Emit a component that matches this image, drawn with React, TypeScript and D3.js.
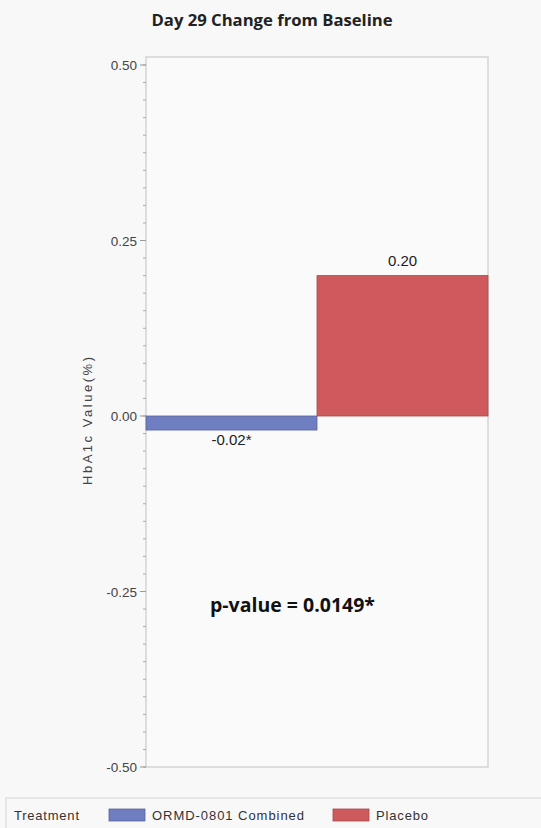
import React from "react";
import * as d3 from "d3";

const categories = ["ORMD-0801 Combined", "Placebo"];
const values = [-0.02, 0.2];
const barLabels = ["-0.02*", "0.20"];
const colors = ["#6e7ec0", "#cf5a5d"];
const yTicks = [-0.5, -0.25, 0, 0.25, 0.5];
const title = "Day 29 Change from Baseline";
const yLabel = "HbA1c Value(%)";
const annotation = "p-value = 0.0149*";
const legendTitle = "Treatment";

export default function App() {
  const W = 541, H = 828;
  const left = 146, right = 488, top = 57;
  const y = d3.scaleLinear().domain([-0.5, 0.5]).range([767, 65]);
  const x = d3.scaleBand().domain(categories).range([left, right]).padding(0);
  const minor = d3.range(-0.5, 0.5001, 0.025).map((v) => +v.toFixed(3));
  const font = "'Liberation Sans', Arial, sans-serif";
  const legendX = [109, 333];
  const legendTextLen = [152, 52];
  return (
    <svg width={W} height={H} style={{ position: "absolute", left: 0, top: 0, background: "#f8f8f8" }}>
      <rect x={0} y={0} width={W} height={H} fill="#f8f8f8" />
      <text x={272} y={26} textAnchor="middle" fontFamily="'Open Sans', sans-serif" fontWeight="bold" fontSize={16} fill="#222" textLength={241} lengthAdjust="spacingAndGlyphs">{title}</text>
      <rect x={left} y={top} width={right - left} height={y(-0.5) - top} fill="#fafafa" stroke="#d4d4d4" strokeWidth={1.5} />
      {categories.map((c, i) => {
        const v = values[i];
        return (
          <rect key={c} x={x(c)} width={x.bandwidth()} y={y(Math.max(0, v))} height={Math.abs(y(v) - y(0))} fill={colors[i]} stroke={d3.color(colors[i])!.darker(0.6).toString()} strokeWidth={0.8} />
        );
      })}
      {categories.map((c, i) => {
        const v = values[i];
        const cx = x(c)! + x.bandwidth() / 2;
        const ty = v >= 0 ? y(v) - 10 : y(v) + 15;
        return (
          <text key={c + "l"} x={cx} y={ty} textAnchor="middle" fontFamily={font} fontSize={15} fill="#222">{barLabels[i]}</text>
        );
      })}
      {minor.map((v) => (
        <line key={"m" + v} x1={left - 3} x2={left} y1={y(v)} y2={y(v)} stroke="#aaa" strokeWidth={1} />
      ))}
      {yTicks.map((v) => (
        <g key={v}>
          <line x1={left - 6} x2={left} y1={y(v)} y2={y(v)} stroke="#999" />
          <text x={left - 9} y={y(v) + 5} textAnchor="end" fontFamily={font} fontSize={13.5} fill="#444">{v.toFixed(2)}</text>
        </g>
      ))}
      <text transform={`translate(92,${y(0) + 5}) rotate(-90)`} textAnchor="middle" fontFamily={font} fontSize={13} fill="#444" textLength={128} lengthAdjust="spacing">{yLabel}</text>
      <text x={292.5} y={612} textAnchor="middle" fontFamily="'Open Sans', sans-serif" fontWeight="bold" fontSize={19} fill="#111" textLength={165} lengthAdjust="spacingAndGlyphs">{annotation}</text>
      <rect x={6} y={798} width={545} height={40} fill="#f8f8f8" stroke="#d4d4d4" />
      <text x={14} y={820} fontFamily={font} fontSize={13} fill="#333" textLength={65} lengthAdjust="spacing">{legendTitle}</text>
      {categories.map((c, i) => {
        const lx = legendX[i];
        return (
          <g key={c + "leg"}>
            <rect x={lx} y={809} width={36} height={12} fill={colors[i]} stroke={d3.color(colors[i])!.darker(0.6).toString()} strokeWidth={0.8} />
            <text x={lx + 43} y={820} fontFamily={font} fontSize={13} fill="#333" textLength={legendTextLen[i]} lengthAdjust="spacing">{c}</text>
          </g>
        );
      })}
    </svg>
  );
}
